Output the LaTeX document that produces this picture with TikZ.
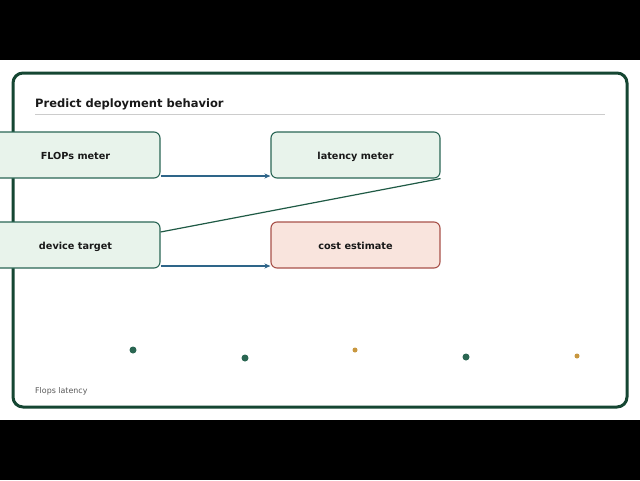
\documentclass[tikz,border=0pt]{standalone}
\usepackage{fontspec}
\setmainfont{DejaVu Sans}
\usetikzlibrary{arrows.meta}
\definecolor{panelc}{HTML}{154632}
\definecolor{boxfill}{HTML}{E8F3EB}
\definecolor{boxdraw}{HTML}{2A6655}
\definecolor{redfill}{HTML}{F9E4DD}
\definecolor{reddraw}{HTML}{A8524A}
\definecolor{arrowc}{HTML}{2E6589}
\definecolor{linec}{HTML}{1F5A45}
\definecolor{goldc}{HTML}{C8973F}
\definecolor{dotg}{HTML}{2A6652}
\definecolor{rulec}{HTML}{CCCCCC}
\tikzset{
  stepbox/.style={draw=boxdraw, fill=boxfill, line width=1.1pt, rounded corners=6pt,
    minimum width=169pt, minimum height=46pt, inner sep=0pt, text height=9.5pt, text depth=0pt,
    font=\fontsize{9.7}{11}\selectfont\bfseries, text=black!90},
  redbox/.style={stepbox, draw=reddraw, fill=redfill},
  flowarrow/.style={draw=arrowc, line width=1.3pt, -{Stealth[length=6pt,width=5pt]}},
  plainline/.style={draw=linec, line width=1.2pt},
  bigdot/.style={circle, fill=dotg, inner sep=0pt, minimum size=7pt},
  smalldot/.style={circle, fill=goldc, inner sep=0pt, minimum size=5pt},
}
\begin{document}
\begin{tikzpicture}[x=1pt,y=-1pt]
\useasboundingbox (0,0) rectangle (640,480);
\clip (0,0) rectangle (640,480);
\fill[black] (0,0) rectangle (640,480);
\fill[white] (0,60) rectangle (640,420);
\draw[panelc, line width=3pt, rounded corners=10pt] (13,73) rectangle (627,407);
\node[anchor=base west, font=\fontsize{11.5}{13}\selectfont\bfseries, text=black!90, inner sep=0pt] (title) at (35,107) {Predict deployment behavior};
\draw[rulec, line width=0.8pt] (35,114) -- (605,114);
\node[stepbox] (flops) at (75.5,155) {FLOPs meter};
\node[stepbox] (device) at (75.5,245) {device target};
\node[stepbox] (latency) at (355.5,155) {latency meter};
\node[redbox] (cost) at (355.5,245) {cost estimate};
\draw[flowarrow] ([yshift=-21pt]flops.east) -- ([yshift=-21pt]latency.west);
\draw[flowarrow] ([yshift=-21pt]device.east) -- ([yshift=-21pt]cost.west);
\draw[plainline] ([yshift=13pt]device.east) -- (latency.south east);
\node[bigdot] (d1) at (133,350) {};
\node[bigdot] (d2) at (245,358) {};
\node[smalldot] (d3) at (355,350) {};
\node[bigdot] (d4) at (466,357) {};
\node[smalldot] (d5) at (577,356) {};
\node[anchor=base west, font=\fontsize{7.9}{9}\selectfont, text=black!65, inner sep=0pt] (foot) at (35,393) {Flops latency};
\end{tikzpicture}
\end{document}
